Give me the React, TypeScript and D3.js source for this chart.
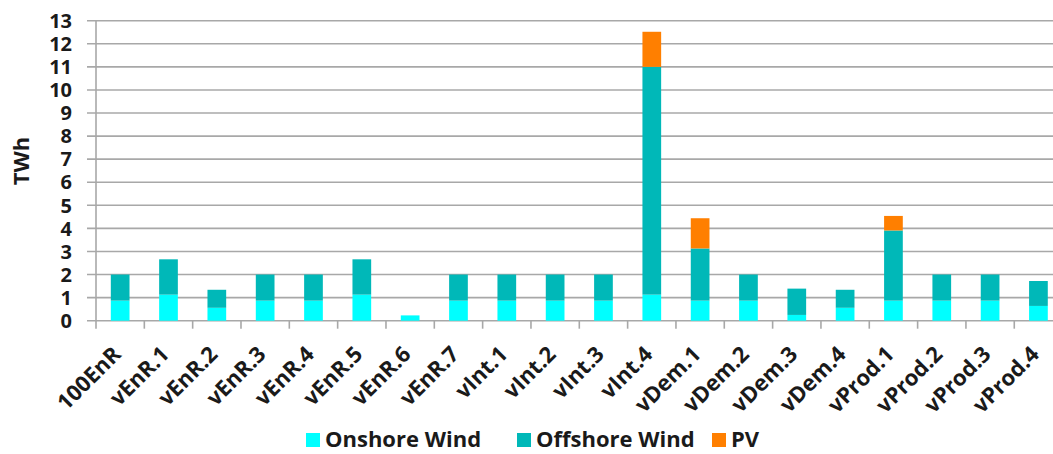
import React from "react";
import * as d3 from "d3";

const categories = ["100EnR","vEnR.1","vEnR.2","vEnR.3","vEnR.4","vEnR.5","vEnR.6","vEnR.7","vInt.1","vInt.2","vInt.3","vInt.4","vDem.1","vDem.2","vDem.3","vDem.4","vProd.1","vProd.2","vProd.3","vProd.4"];
const onshore = [0.87,1.13,0.56,0.87,0.87,1.13,0.23,0.87,0.87,0.87,0.87,1.13,0.87,0.87,0.25,0.56,0.87,0.87,0.87,0.64];
const offshore = [1.13,1.53,0.78,1.13,1.13,1.53,0,1.13,1.13,1.13,1.13,9.87,2.26,1.13,1.14,0.78,3.04,1.13,1.13,1.08];
const pv = [0,0,0,0,0,0,0,0,0,0,0,1.52,1.31,0,0,0,0.63,0,0,0];
const yTicks = d3.range(0, 14);
const seriesNames = ["Onshore Wind","Offshore Wind","PV"];
const colors = ["#00FFFF","#00B8B8","#FF7F00"];

const FONT = "'Open Sans', Lato, sans-serif";

export default function App() {
  const W = 1053, H = 454;
  const left = 96, top = 20.7, bottom = 320.7;
  const step = 48.33;
  const x = d3.scaleBand().domain(categories).range([left, left + step * categories.length]).paddingInner(0.613).paddingOuter(0.3065);
  const y = d3.scaleLinear().domain([0, 13]).range([bottom, top]);
  const data = categories.map((c, i) => ({ c, on: onshore[i], off: offshore[i], pv: pv[i] }));
  const stack = d3.stack<any>().keys(["on","off","pv"])(data as any);
  const bandStart = (c: string) => left + categories.indexOf(c) * step;

  return (
    <svg width={W} height={H} style={{ position: "absolute", left: 0, top: 0 }} fontFamily={FONT}>
      <rect width={W} height={H} fill="#fff" />
      {yTicks.map(t => (
        <g key={t}>
          <line x1={87} x2={W} y1={y(t)} y2={y(t)} stroke="#a8a8a8" strokeWidth={1.6} />
          <text x={72} y={y(t)} dy="0.36em" textAnchor="end" fontSize={20} fontWeight={700} fill="#1a1a1a">{t}</text>
        </g>
      ))}
      <line x1={left} x2={left} y1={top} y2={bottom + 8} stroke="#a8a8a8" strokeWidth={1.6} />
      {categories.map((c, i) => (
        <line key={c} x1={bandStart(c) + step} x2={bandStart(c) + step} y1={bottom} y2={bottom + 8} stroke="#a8a8a8" strokeWidth={1.6} />
      ))}
      {stack.map((s, si) => (
        <g key={si} fill={colors[si]}>
          {s.map((d: any, i: number) => (d[1] - d[0] > 0 ?
            <rect key={i} x={x(categories[i])} width={x.bandwidth()} y={y(d[1])} height={y(d[0]) - y(d[1])} /> : null))}
        </g>
      ))}
      {categories.map(c => {
        const cx = (x(c) as number) + x.bandwidth() / 2 + 2;
        const cy = bottom + 35;
        return (
          <text key={c} transform={`translate(${cx},${cy}) rotate(-45)`} textAnchor="end" fontSize={22} fontWeight={700} fill="#1a1a1a">{c}</text>
        );
      })}
      <text transform={`translate(29,161) rotate(-90)`} textAnchor="middle" fontSize={22} fontWeight={700} fill="#1a1a1a">TWh</text>
      {seriesNames.map((n, i) => {
        const lx = [306, 517, 712][i];
        return (
          <g key={n}>
            <rect x={lx} y={433} width={14} height={14} fill={colors[i]} />
            <text x={lx + 19} y={447} fontSize={22} fontWeight={700} fill="#1a1a1a">{n}</text>
          </g>
        );
      })}
    </svg>
  );
}
